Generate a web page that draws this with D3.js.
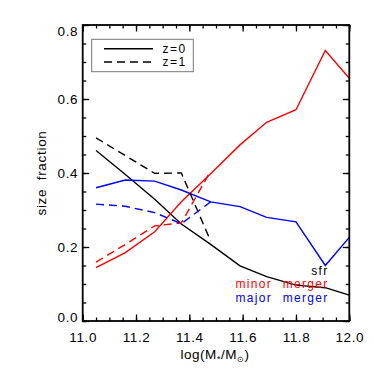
<!DOCTYPE html>
<html><head><meta charset="utf-8">
<script src="https://cdn.jsdelivr.net/npm/d3@7/dist/d3.min.js"></script>
<style>body{margin:0;background:#fff}svg{display:block}</style>
</head><body><svg id="c" width="374" height="374"></svg>
<script>
// log stellar-mass bins
const massBins = [11.05, 11.16, 11.27, 11.37, 11.48, 11.59, 11.69, 11.80, 11.91, 12.0];
// z=0 (solid)
const sfrZ0   = [0.461, 0.396, 0.329, 0.262, 0.207, 0.149, 0.120, 0.097, 0.090, 0.070];
const minorZ0 = [0.144, 0.185, 0.241, 0.322, 0.398, 0.476, 0.537, 0.571, 0.731, 0.656];
const majorZ0 = [0.360, 0.381, 0.378, 0.354, 0.322, 0.309, 0.280, 0.268, 0.150, 0.226];
// z=1 (dashed), first five bins only
const sfrZ1   = [0.495, 0.447, 0.399, 0.400, 0.216];
const minorZ1 = [0.159, 0.207, 0.257, 0.265, 0.406];
const majorZ1 = [0.316, 0.310, 0.293, 0.263, 0.322];

const xTicks = [11.0, 11.2, 11.4, 11.6, 11.8, 12.0];
const yTicks = [0.0, 0.2, 0.4, 0.6, 0.8];
const xMinor = d3.range(0, 21).map(i => 11 + i * 0.05);
const yMinor = d3.range(0, 17).map(i => i * 0.05);

const FONT = "'Liberation Sans', Arial, sans-serif";
const L = 82.7, R = 349.3, T = 25, B = 321;
const x = d3.scaleLinear().domain([11, 12]).range([L, R]);
const y = d3.scaleLinear().domain([0, 0.8]).range([B, T]);

const svg = d3.select("#c");
svg.append("rect").attr("width", 374).attr("height", 374).attr("fill", "#fff");

const series = [
  {v: sfrZ0,   c: "#000", dash: null},
  {v: minorZ0, c: "#ff0000", dash: null},
  {v: majorZ0, c: "#0000ff", dash: null},
  {v: sfrZ1,   c: "#000", dash: "8,5"},
  {v: minorZ1, c: "#ff0000", dash: "8,5"},
  {v: majorZ1, c: "#0000ff", dash: "8,5"}
];
const line = d3.line().x(d => x(d[0])).y(d => y(d[1]));
series.forEach(s => {
  svg.append("path")
    .datum(s.v.map((v, i) => [massBins[i], v]))
    .attr("d", line).attr("fill", "none")
    .attr("stroke", s.c).attr("stroke-width", 1.4)
    .attr("stroke-dasharray", s.dash);
});

function axisG(gen, tr) {
  const g = svg.append("g").attr("transform", tr).call(gen);
  g.select(".domain").remove();
  g.selectAll("line").attr("stroke", "#000").attr("stroke-width", 1.3);
  return g;
}
function styleLabels(g) {
  g.selectAll("text").attr("font-family", FONT).attr("font-size", 13.5)
    .attr("letter-spacing", 0.6).attr("fill", "#000");
}
// major ticks
const gb = axisG(d3.axisBottom(x).tickValues(xTicks).tickSize(-6.5).tickSizeOuter(0).tickPadding(11.5).tickFormat(d3.format(".1f")), `translate(0,${B})`);
styleLabels(gb);
axisG(d3.axisTop(x).tickValues(xTicks).tickSize(-6.5).tickSizeOuter(0).tickFormat(""), `translate(0,${T})`);
const gl = axisG(d3.axisLeft(y).tickValues(yTicks).tickSize(-6.5).tickSizeOuter(0).tickPadding(4.5).tickFormat(d3.format(".1f")), `translate(${L},0)`);
styleLabels(gl);
gl.selectAll("text").attr("dy", d => d === 0 ? "-0.0em" : d === 0.8 ? "0.75em" : "0.35em");
axisG(d3.axisRight(y).tickValues(yTicks).tickSize(-6.5).tickSizeOuter(0).tickFormat(""), `translate(${R},0)`);
// minor ticks
axisG(d3.axisBottom(x).tickValues(xMinor).tickSize(-3.5).tickSizeOuter(0).tickFormat(""), `translate(0,${B})`);
axisG(d3.axisTop(x).tickValues(xMinor).tickSize(-3.5).tickSizeOuter(0).tickFormat(""), `translate(0,${T})`);
axisG(d3.axisLeft(y).tickValues(yMinor).tickSize(-3.5).tickSizeOuter(0).tickFormat(""), `translate(${L},0)`);
axisG(d3.axisRight(y).tickValues(yMinor).tickSize(-3.5).tickSizeOuter(0).tickFormat(""), `translate(${R},0)`);

// frame
svg.append("rect").attr("x", L).attr("y", T).attr("width", R - L).attr("height", B - T)
  .attr("fill", "none").attr("stroke", "#000").attr("stroke-width", 1.8);

// axis titles
const xt = svg.append("text").attr("x", (L + R) / 2 - 1).attr("y", 359).attr("text-anchor", "middle")
  .attr("font-family", FONT).attr("font-size", 13.5).attr("letter-spacing", 0.5).attr("fill", "#000");
xt.append("tspan").text("log(M");
xt.append("tspan").text("*").attr("font-size", 9).attr("dy", 3);
xt.append("tspan").text("/M").attr("dy", -3);
xt.append("tspan").text("⊙").attr("font-size", 8).attr("dy", 3);
xt.append("tspan").text(")").attr("dy", -3);

svg.append("text").attr("transform", `translate(45.5,${(T + B) / 2}) rotate(-90)`)
  .attr("text-anchor", "middle").attr("font-family", FONT).attr("font-size", 13.5)
  .attr("letter-spacing", 0.7).attr("word-spacing", 4).attr("fill", "#000").text("size fraction");

// legend
const lg = svg.append("g");
lg.append("rect").attr("x", 91.7).attr("y", 39.3).attr("width", 101.6).attr("height", 32.4)
  .attr("fill", "#fff").attr("stroke", "#777").attr("stroke-width", 1);
const legendItems = [{t: "z=0", dash: null, yy: 48.7}, {t: "z=1", dash: "8,5", yy: 62}];
legendItems.forEach(it => {
  lg.append("line").attr("x1", 104).attr("x2", 153).attr("y1", it.yy).attr("y2", it.yy)
    .attr("stroke", "#000").attr("stroke-width", 1.4).attr("stroke-dasharray", it.dash);
  lg.append("text").attr("x", 162.5).attr("y", it.yy + 4.4).attr("font-family", FONT)
    .attr("font-size", 12).attr("letter-spacing", 1.5).attr("fill", "#000").text(it.t);
});

// annotations
const notes = [{t: "sfr", c: "#000", yy: 275}, {t: "minor merger", c: "#ff0000", yy: 288.4}, {t: "major merger", c: "#0000ff", yy: 301.7}];
notes.forEach(n => {
  svg.append("text").attr("x", 328.5).attr("y", n.yy).attr("text-anchor", "end")
    .attr("font-family", FONT).attr("font-size", 12).attr("letter-spacing", 1.3).attr("word-spacing", 6)
    .attr("fill", n.c).text(n.t);
});
</script></body></html>
